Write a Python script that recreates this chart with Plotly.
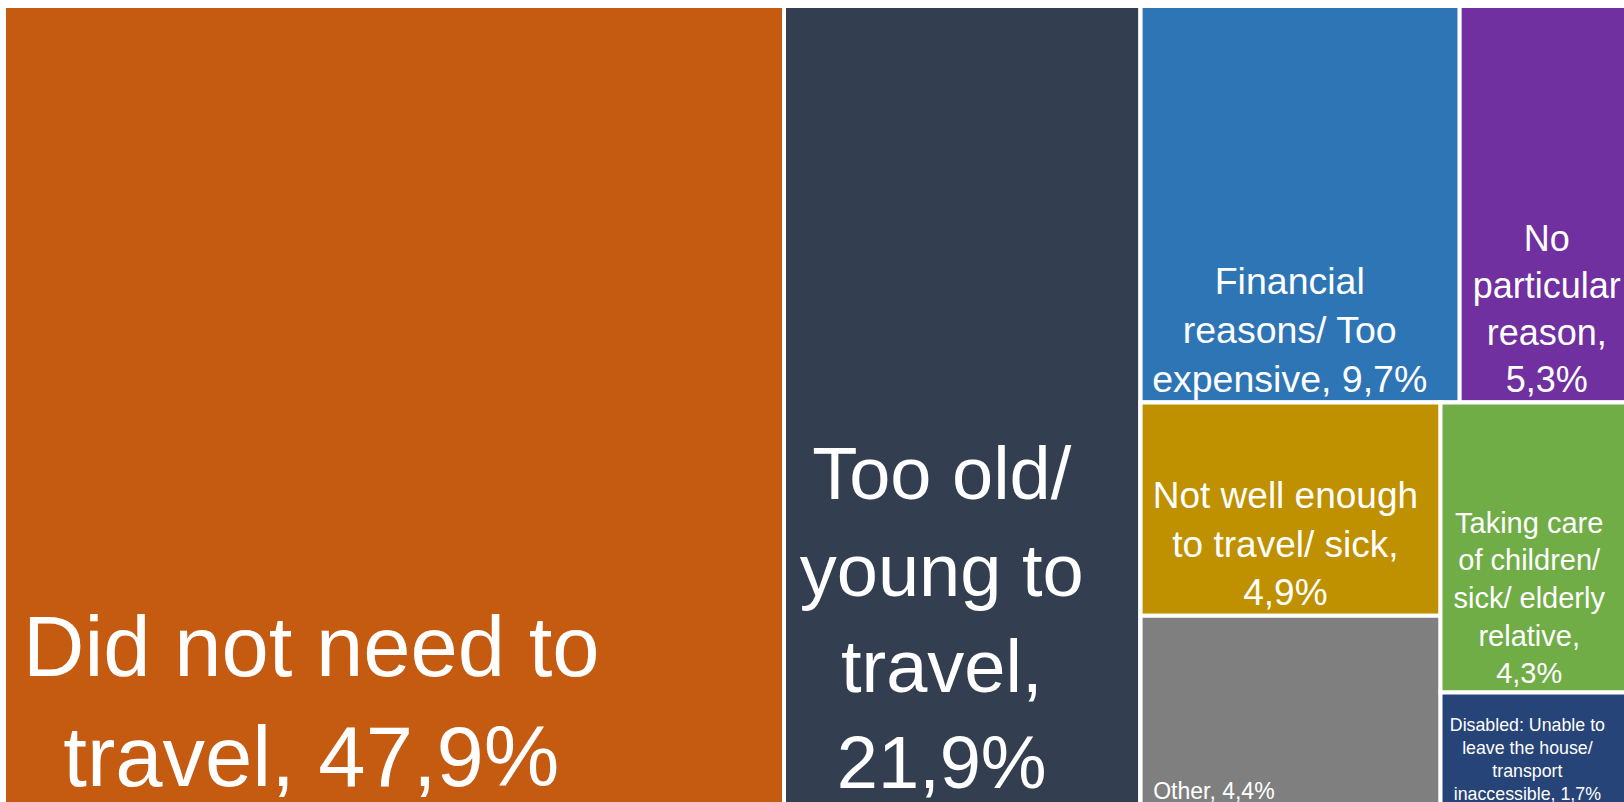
import plotly.graph_objects as go

# Reasons for not travelling, share of respondents (%)
categories = [
    "Did not need to travel",
    "Too old/ young to travel",
    "Financial reasons/ Too expensive",
    "No particular reason",
    "Not well enough to travel/ sick",
    "Other",
    "Taking care of children/ sick/ elderly relative",
    "Disabled: Unable to leave the house/ transport inaccessible",
]
shares = [47.9, 21.9, 9.7, 5.3, 4.9, 4.4, 4.3, 1.7]

# Wrapped tile labels; {pct} is filled with the formatted share
label_templates = [
    "Did not need to<br>travel, {pct}",
    "Too old/<br>young to<br>travel,<br>{pct}",
    "Financial<br>reasons/ Too<br>expensive, {pct}",
    "No<br>particular<br>reason,<br>{pct}",
    "Not well enough<br>to travel/ sick,<br>{pct}",
    "Other, {pct}",
    "Taking care<br>of children/<br>sick/ elderly<br>relative,<br>{pct}",
    "Disabled: Unable to<br>leave the house/<br>transport<br>inaccessible, {pct}",
]

# Tile styling
colors = ["#C55A11", "#333F50", "#2E75B6", "#7030A0",
          "#BF9000", "#7F7F7F", "#70AD47", "#264478"]
font_sizes = [85, 74, 37.5, 36, 37, 23, 29, 17.8]
# trailing no-break spaces per label line, nudging the centred text leftwards
trailing_spaces = [7, 2, 2, 0, 1, 24, 2, 4]

# Nesting used by the slice-dice tiling
leaf_parents = ["", "", "top", "top", "left", "left", "right", "right"]
group_ids = ["rest", "top", "bottom", "left", "right"]
group_parents = ["", "rest", "rest", "bottom", "bottom"]


def fmt_pct(v):
    return f"{v:.1f}".replace(".", ",") + "%"


def tile_text(template, value, n_pad):
    pad = "\u00a0" * n_pad
    lines = template.format(pct=fmt_pct(value)).split("<br>")
    return "<br>".join(line + pad for line in lines)


ids = categories + group_ids
parents = leaf_parents + group_parents
labels = categories + group_ids
values = shares + [0] * len(group_ids)
texts = [tile_text(t, v, n) for t, v, n in zip(label_templates, shares, trailing_spaces)]
texts += [""] * len(group_ids)
tile_colors = colors + ["#FFFFFF"] * len(group_ids)
sizes = font_sizes + [12] * len(group_ids)

fig = go.Figure(
    go.Treemap(
        ids=ids,
        labels=labels,
        parents=parents,
        values=values,
        text=texts,
        branchvalues="remainder",
        sort=False,
        textinfo="text",
        textposition="bottom center",
        textfont=dict(family="Liberation Sans, Arial, sans-serif", size=sizes, color="white"),
        marker=dict(
            colors=tile_colors,
            line=dict(color="white", width=4),
            pad=dict(t=0, l=0, r=0, b=0),
        ),
        tiling=dict(packing="slice-dice", pad=0),
        pathbar=dict(visible=False),
        hoverinfo="skip",
    )
)

fig.update_layout(
    width=1634,
    height=807,
    margin=dict(l=4, t=6, r=0, b=0),
    paper_bgcolor="white",
    showlegend=False,
)

fig.write_html(
    "out.html",
    config={"displayModeBar": False},
    post_script=(
        "document.documentElement.style.overflow='hidden';"
        "document.body.style.overflow='hidden';"
        "document.body.style.margin='0';"
    ),
)
